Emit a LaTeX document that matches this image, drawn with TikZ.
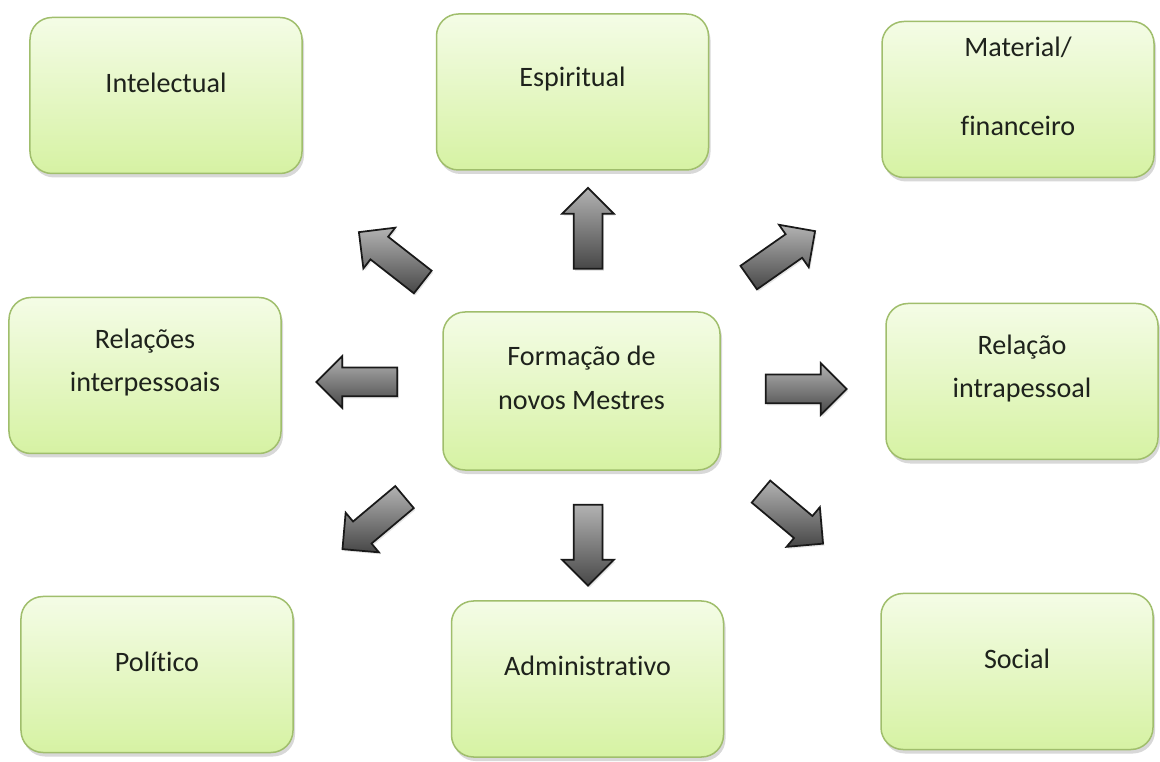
\documentclass[tikz,border=0pt]{standalone}
\usepackage{fontspec}
\setmainfont{Carlito}[Ligatures=NoCommon]
\usetikzlibrary{shapes.arrows,shadows}
\definecolor{caixaborda}{RGB}{160,190,108}
\definecolor{caixatopo}{RGB}{244,252,230}
\definecolor{caixabase}{RGB}{214,242,163}
\definecolor{textocor}{RGB}{30,34,28}

\begin{document}
\begin{tikzpicture}[x=0.2mm, y=-0.2mm,
        caixa/.style={rectangle, rounded corners=4.4mm, draw=caixaborda, line width=0.3mm,
            top color=caixatopo, bottom color=caixabase, minimum width=54.4mm, minimum height=31.2mm,
            drop shadow={shadow xshift=0.4mm, shadow yshift=-0.8mm, opacity=0.25, fill=black!60}},
        texto/.style={font=\fontsize{16}{25}\selectfont, text=textocor, align=center},
        seta/.style={single arrow, draw=black!90, line width=0.35mm, top color=black!30, bottom color=black!72,
            inner sep=0pt, text height=5.4mm, text depth=0pt, minimum width=10mm, minimum height=16.2mm,
            single arrow head extend=2.3mm, single arrow tip angle=90,
            drop shadow={shadow xshift=0.3mm, shadow yshift=-0.4mm, opacity=0.2}}]
        \useasboundingbox (0, 0) rectangle (1160, 762);
        \fill[white] (0, 0) rectangle (1160, 762);

        \newcommand{\bloco}[4]{
            \node[caixa] (#1) at (#2, #3) {};
            \node[texto] (#1-t) at ([yshift=2.6mm]#1.center) {#4};
        }

        \bloco{intelectual}{166}{95.5}{Intelectual}
        \bloco{espiritual}{572.5}{92}{Espiritual}
        \bloco{material}{1018}{99.5}{Material/\\[7mm]financeiro}
        \bloco{interpessoais}{145}{375.5}{Relações\\interpessoais}
        \bloco{intrapessoal}{1022}{381.5}{Relação\\intrapessoal}
        \bloco{politico}{157}{674.5}{Político}
        \bloco{administrativo}{587.5}{679}{Administrativo}
        \bloco{social}{1017}{671.5}{Social}

        \node[caixa, minimum width=55.4mm, minimum height=31.6mm] (formacao) at (581.5, 391) {};
        \node[texto] (formacao-t) at ([yshift=2.6mm]formacao.center) {Formação de\\novos Mestres};

        \node[seta, rotate=90] (setaEspiritual) at (588, 235.5) {};
        \node[seta, rotate=-90] (setaAdministrativo) at (588, 538) {};
        \node[seta, rotate=180] (setaInterpessoais) at (364, 382) {};
        \node[seta, rotate=0] (setaIntrapessoal) at (799, 389) {};
        \node[seta, rotate=142] (setaIntelectual) at (396.5, 261.5) {};
        \node[seta, rotate=35] (setaMaterial) at (776, 258.5) {};
        \node[seta, rotate=220] (setaPolitico) at (379, 518.5) {};
        \node[seta, rotate=-40] (setaSocial) at (786.5, 513) {};
    \end{tikzpicture}
\end{document}
